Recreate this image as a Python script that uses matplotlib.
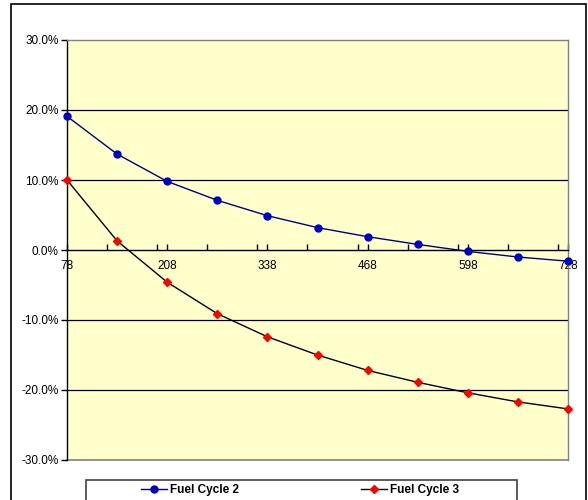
import matplotlib
matplotlib.use('Agg')
from matplotlib import pyplot as plt
from matplotlib.patches import Rectangle
from matplotlib.ticker import PercentFormatter, MultipleLocator
import numpy as np

plt.rcParams['font.family'] = ['Liberation Sans', 'DejaVu Sans']
plt.rcParams['axes.unicode_minus'] = False

days = [78, 143, 208, 273, 338, 403, 468, 533, 598, 663, 728]
fuel_cycle_2 = [0.191, 0.137, 0.098, 0.071, 0.049, 0.032, 0.019, 0.008, -0.002, -0.010, -0.016]
fuel_cycle_3 = [0.100, 0.013, -0.046, -0.091, -0.124, -0.150, -0.172, -0.189, -0.204, -0.217, -0.227]
x_labels = [78, 208, 338, 468, 598, 728]
grid_levels = [-0.2, -0.1, 0.1, 0.2]

fig = plt.figure(figsize=(5.88, 5.0), dpi=100)
fig.patch.set_facecolor('white')

# outer chart border
fig.patches.append(Rectangle((11 / 588, -0.01), 575 / 588, 1 - 4 / 500 + 0.01,
                             transform=fig.transFigure, fill=False,
                             edgecolor='black', lw=1.2))

ax = fig.add_axes([67 / 588, 40 / 500, 501 / 588, 420 / 500])
ax.set_facecolor('#FFFFCC')
ax.set_xlim(78, 728)
ax.set_ylim(-0.3, 0.3)

for g in grid_levels:
    ax.axhline(g, color='black', lw=0.9, zorder=1)
ax.axhline(-0.3, color='#808080', lw=1.2, zorder=1, clip_on=False)

ax.plot(days, fuel_cycle_2, color='#000080', lw=1, marker='o', ms=5,
        mfc='#0000CC', mec='#0000CC', label='Fuel Cycle 2', zorder=3, clip_on=False)
ax.plot(days, fuel_cycle_3, color='black', lw=1, marker='D', ms=4.3,
        mfc='#FF0000', mec='#FF0000', label='Fuel Cycle 3', zorder=3, clip_on=False)

ax.spines['bottom'].set_position(('data', 0))
ax.spines['bottom'].set_color('black')
ax.spines['left'].set_color('black')
ax.spines['top'].set_color('#808080')
ax.spines['right'].set_color('#808080')
for s in ax.spines.values():
    s.set_linewidth(1.0)

ax.set_xticks(x_labels)
ax.set_xticklabels([str(v) for v in x_labels])
ax.xaxis.set_minor_locator(MultipleLocator(65))
ax.tick_params(axis='x', which='both', direction='in', length=4.5, width=1,
               labelsize=8.5, pad=7, colors='black')
ax.yaxis.set_major_locator(MultipleLocator(0.1))
ax.yaxis.set_major_formatter(PercentFormatter(1, decimals=1))
ax.tick_params(axis='y', direction='out', length=4, width=1, labelsize=8.5, pad=2)

# legend box
fig.patches.append(Rectangle((86 / 588, -0.01), 431 / 588, 20 / 500 + 0.01,
                             transform=fig.transFigure, fill=False,
                             edgecolor='#404040', lw=1.2))
leg = fig.legend(loc='center', bbox_to_anchor=(300 / 588, 10 / 500), ncol=2,
                 frameon=False, prop={'weight': 'bold', 'size': 8.5},
                 handlelength=2.2, handletextpad=0.3, columnspacing=10.3,
                 borderpad=0)

fig.savefig('out.png', dpi=100)
